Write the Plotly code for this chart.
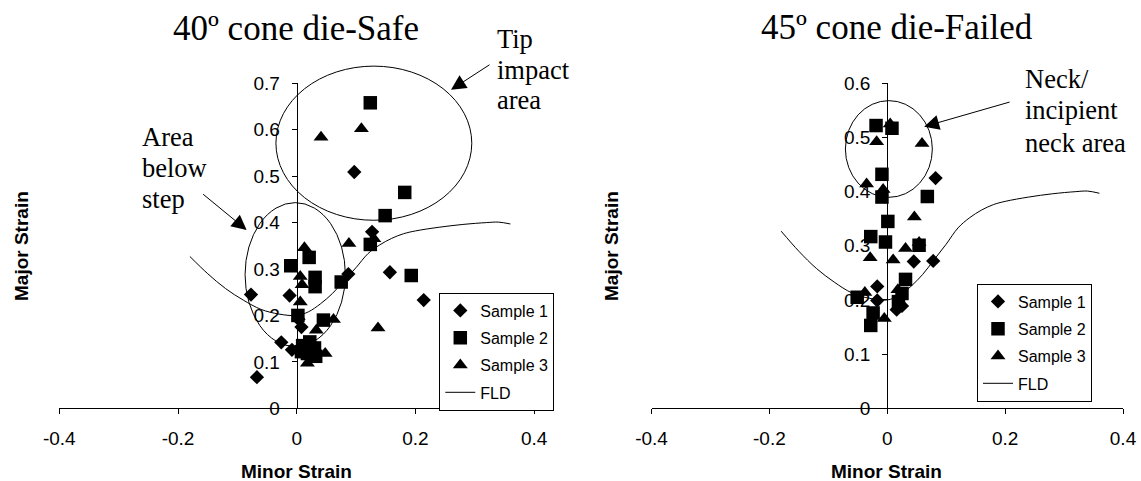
import plotly.graph_objects as go

# ---------------- data ----------------
x_ticks = [-0.4, -0.2, 0, 0.2, 0.4]
x_tick_text = ["-0.4", "-0.2", "0", "0.2", "0.4"]
y_ticks_left = [0, 0.1, 0.2, 0.3, 0.4, 0.5, 0.6, 0.7]
y_tick_text_left = ["0", "0.1", "0.2", "0.3", "0.4", "0.5", "0.6", "0.7"]
y_ticks_right = [0, 0.1, 0.2, 0.3, 0.4, 0.5, 0.6]
y_tick_text_right = ["0", "0.1", "0.2", "0.3", "0.4", "0.5", "0.6"]

# 40º cone die - Safe
s1_left_x = [-0.067, -0.077, -0.026, -0.008, -0.012, 0.003, 0.008, 0.087, 0.097, 0.127, 0.157, 0.214]
s1_left_y = [0.067, 0.245, 0.142, 0.126, 0.243, 0.192, 0.175, 0.289, 0.509, 0.380, 0.293, 0.233]
s2_left_x = [0.124, 0.182, 0.149, 0.124, 0.193, 0.075, 0.031, 0.031, 0.021, -0.010, 0.002, 0.045,
             0.010, 0.022, 0.030, 0.018, 0.032, 0.008]
s2_left_y = [0.658, 0.465, 0.415, 0.353, 0.286, 0.272, 0.282, 0.262, 0.325, 0.307, 0.200, 0.190,
             0.135, 0.143, 0.130, 0.118, 0.112, 0.122]
s3_left_x = [0.041, 0.109, 0.088, 0.130, 0.013, 0.006, 0.009, 0.006, 0.137, 0.062, 0.033, 0.048,
             0.018, 0.027, 0.012]
s3_left_y = [0.584, 0.602, 0.355, 0.365, 0.346, 0.284, 0.266, 0.229, 0.173, 0.191, 0.168, 0.118,
             0.097, 0.125, 0.132]

# 45º cone die - Failed
s1_right_x = [0.082, 0.078, 0.045, -0.017, -0.017, 0.016, 0.025]
s1_right_y = [0.425, 0.272, 0.271, 0.225, 0.199, 0.182, 0.189]
s2_right_x = [-0.019, 0.008, -0.009, -0.009, 0.068, 0.001, -0.028, -0.003, 0.054, 0.031, 0.025,
              -0.051, -0.024, -0.028, 0.019]
s2_right_y = [0.522, 0.517, 0.432, 0.390, 0.391, 0.345, 0.317, 0.307, 0.301, 0.238, 0.212,
              0.205, 0.176, 0.153, 0.197]
s3_right_x = [0.005, -0.018, 0.059, -0.035, -0.007, 0.046, 0.031, 0.054, -0.029, 0.010, -0.038,
              0.018, -0.005]
s3_right_y = [0.525, 0.492, 0.489, 0.414, 0.404, 0.353, 0.295, 0.306, 0.278, 0.274, 0.214,
              0.219, 0.166]

# Forming limit diagram curve
fld_x = [-0.18, -0.15, -0.12, -0.09, -0.06, -0.03, 0.0, 0.02, 0.04, 0.06, 0.08, 0.10, 0.12,
         0.14, 0.16, 0.18, 0.20, 0.24, 0.28, 0.32, 0.34, 0.36]
fld_y = [0.327, 0.290, 0.258, 0.233, 0.213, 0.203, 0.200, 0.208, 0.225, 0.247, 0.275, 0.303,
         0.333, 0.352, 0.366, 0.376, 0.382, 0.390, 0.396, 0.400, 0.401, 0.397]

W, H = 1141, 481
sans = "Liberation Sans, Arial, sans-serif"
serif = "Liberation Serif, Times New Roman, serif"

fig = go.Figure()


def add_panel(s1x, s1y, s2x, s2y, s3x, s3y, xa, ya, leg):
    common = dict(xaxis=xa, yaxis=ya, legend=leg)
    fig.add_trace(go.Scatter(x=s1x, y=s1y, mode="markers", name="Sample 1",
                             legendgroup=leg + "a", cliponaxis=False,
                             marker=dict(symbol="diamond", size=11, color="black"), **common))
    fig.add_trace(go.Scatter(x=s2x, y=s2y, mode="markers", name="Sample 2",
                             legendgroup=leg + "b", cliponaxis=False,
                             marker=dict(symbol="square", size=13.5, color="black"), **common))
    fig.add_trace(go.Scatter(x=s3x, y=s3y, mode="markers", name="Sample 3",
                             legendgroup=leg + "c", cliponaxis=False,
                             marker=dict(symbol="triangle-up", size=13, color="black"), **common))
    fig.add_trace(go.Scatter(x=fld_x, y=fld_y, mode="lines", name="FLD",
                             legendgroup=leg + "d",
                             line=dict(color="black", width=1, shape="spline"), **common))


add_panel(s1_left_x, s1_left_y, s2_left_x, s2_left_y, s3_left_x, s3_left_y, "x", "y", "legend")
add_panel(s1_right_x, s1_right_y, s2_right_x, s2_right_y, s3_right_x, s3_right_y, "x2", "y2", "legend2")

dom_l = [59.3 / W, 534.1 / W]
dom_r = [651.5 / W, 1123.0 / W]
dom_y = [(H - 408.3) / H, (H - 83.3) / H]

xaxis_common = dict(range=[-0.4, 0.4], tickvals=x_ticks, ticktext=x_tick_text,
                    showgrid=False, zeroline=False, showline=True, linecolor="black",
                    linewidth=1, ticks="outside", ticklen=5, tickcolor="black",
                    tickfont=dict(family=sans, size=19, color="black"),
                    ticklabelstandoff=8, automargin=False)
yaxis_common = dict(showgrid=False, zeroline=False, showline=True, linecolor="black",
                    linewidth=1, ticks="outside", ticklen=5, tickcolor="black",
                    tickfont=dict(family=sans, size=19, color="black"),
                    anchor="free", ticklabelstandoff=8, automargin=False)

legend_common = dict(bgcolor="white", bordercolor="black", borderwidth=1,
                     font=dict(family=sans, size=16, color="black"),
                     xanchor="left", yanchor="top", tracegroupgap=3.5,
                     traceorder="grouped")

fig.update_layout(
    template="none",
    width=W, height=H,
    margin=dict(l=0, r=0, t=0, b=0, pad=0, autoexpand=False),
    paper_bgcolor="white", plot_bgcolor="white",
    showlegend=True,
    xaxis=dict(domain=dom_l, anchor="y", **xaxis_common),
    yaxis=dict(domain=dom_y, range=[0, 0.7], tickvals=y_ticks_left, ticktext=y_tick_text_left,
               position=(dom_l[0] + dom_l[1]) / 2, **yaxis_common),
    xaxis2=dict(domain=dom_r, anchor="y2", **xaxis_common),
    yaxis2=dict(domain=dom_y, range=[0, 0.6], tickvals=y_ticks_right, ticktext=y_tick_text_right,
                position=(dom_r[0] + dom_r[1]) / 2, **yaxis_common),
    legend=dict(x=439.3 / W, y=1 - 292.5 / H, **legend_common),
    legend2=dict(x=977.0 / W, y=1 - 283.5 / H, **legend_common),
)


def to_paper(x, y, dom_x, ymax):
    px = dom_x[0] + (x + 0.4) / 0.8 * (dom_x[1] - dom_x[0])
    py = dom_y[0] + y / ymax * (dom_y[1] - dom_y[0])
    return px, py


def ellipse(x0, x1, y0, y1, dom_x, ymax):
    a0, b0 = to_paper(x0, y0, dom_x, ymax)
    a1, b1 = to_paper(x1, y1, dom_x, ymax)
    fig.add_shape(type="circle", xref="paper", yref="paper", x0=a0, x1=a1, y0=b0, y1=b1,
                  line=dict(color="black", width=1))


# ellipses (drawn in paper space so they are not clipped by the plot area)
ellipse(-0.035, 0.295, 0.405, 0.737, dom_l, 0.7)
ellipse(-0.087, 0.082, 0.133, 0.443, dom_l, 0.7)
ellipse(-0.071, 0.0765, 0.3895, 0.568, dom_r, 0.6)

# arrows
arrow = dict(showarrow=True, text="", arrowhead=2, arrowsize=3, arrowwidth=1,
             arrowcolor="black")
fig.add_annotation(x=-0.0843, y=0.384, xref="x", yref="y", ax=-45, ay=-37, **arrow)
fig.add_annotation(x=0.26, y=0.686, xref="x", yref="y", ax=40, ay=-26, **arrow)
fig.add_annotation(x=0.0626, y=0.52, xref="x2", yref="y2", ax=87, ay=-25, **arrow)


def ptext(text, px, py, size, family, xanchor="left", bold=False, angle=0):
    fig.add_annotation(text=("<b>%s</b>" % text) if bold else text,
                       x=px / W, y=1 - py / H, xref="paper", yref="paper",
                       xanchor=xanchor, yanchor="middle", showarrow=False,
                       textangle=angle,
                       font=dict(family=family, size=size, color="black"))


# titles
ptext("40º cone die-Safe", 296, 28, 35, serif, xanchor="center")
ptext("45º cone die-Failed", 897, 27, 35, serif, xanchor="center")

# callout texts
ann = 26.5
for t, yy in [("Tip", 39), ("impact", 70), ("area", 100)]:
    ptext(t, 494.5, yy, ann, serif)
for t, yy in [("Area", 137), ("below", 168), ("step", 199)]:
    ptext(t, 140, yy, ann, serif)
for t, yy in [("Neck/", 79), ("incipient", 110), ("neck area", 143)]:
    ptext(t, 1022.7, yy, ann, serif)

# axis titles
ptext("Minor Strain", 297, 471, 19, sans, xanchor="center", bold=True)
ptext("Minor Strain", 886.4, 471, 19, sans, xanchor="center", bold=True)
ptext("Major Strain", 21, 246, 19, sans, xanchor="center", bold=True, angle=-90)
ptext("Major Strain", 611, 246, 19, sans, xanchor="center", bold=True, angle=-90)

fig.write_html(
    "out.html",
    config={"displayModeBar": False},
    post_script="document.body.style.margin='0';document.body.style.padding='0';"
                "document.body.style.overflow='hidden';",
)
